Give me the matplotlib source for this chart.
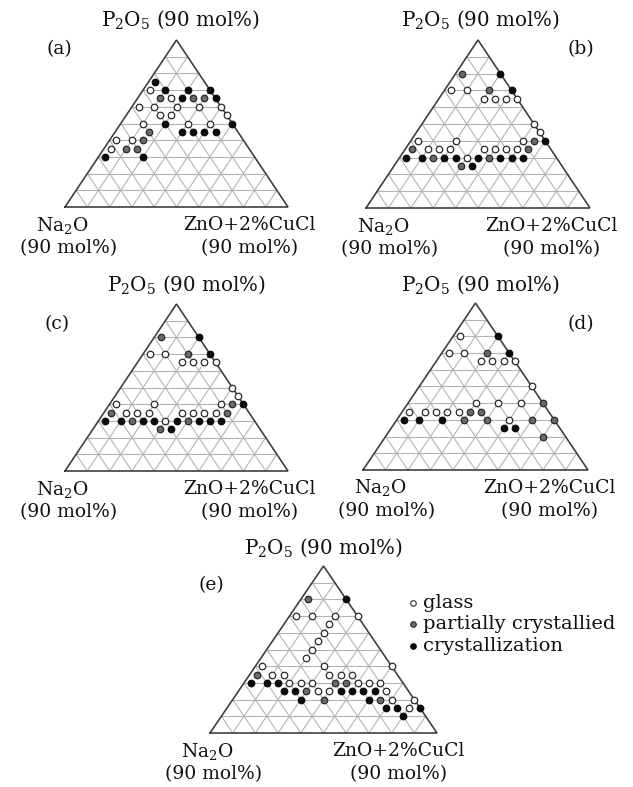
import matplotlib
matplotlib.use('Agg')
import matplotlib.pyplot as plt

plt.rcParams['font.family'] = ['DejaVu Serif']
plt.rcParams['mathtext.fontset'] = 'dejavuserif'

# ---------------- data (triangle %, P2O5 and ZnO+CuCl; Na2O = rest) ----------------
# phase codes: 'g' glass, 'p' partially crystallied, 'c' crystallization
a_p2o5 = [75, 70, 70, 70, 70, 65, 65, 65, 65, 65, 65, 60, 60, 60, 60, 60, 55, 55, 55,
          50, 50, 50, 50, 50, 45, 45, 45, 45, 45, 40, 40, 40, 35, 35, 35, 30, 30]
a_zno = [3, 3, 10, 20, 30, 10, 15, 20, 25, 30, 35, 3, 10, 20, 30, 40, 15, 20, 45,
         10, 20, 30, 40, 50, 15, 30, 35, 40, 45, 3, 10, 15, 3, 10, 15, 3, 20]
a_phase = ['c', 'g', 'c', 'c', 'c', 'p', 'g', 'c', 'p', 'p', 'c', 'g', 'g', 'g', 'g', 'g', 'g', 'g', 'g',
           'g', 'c', 'g', 'g', 'c', 'p', 'c', 'c', 'c', 'c', 'g', 'g', 'p', 'g', 'p', 'p', 'c', 'c']

b_p2o5 = [80, 80, 70, 70, 70, 70, 65, 65, 65, 65, 50, 45, 40, 40, 40, 40, 40,
          35, 35, 35, 35, 35, 35, 35, 35, 35,
          30, 30, 30, 30, 30, 30, 30, 30, 30, 30, 30, 25, 25]
b_zno = [3, 20, 3, 10, 20, 30, 20, 25, 30, 35, 50, 55, 3, 20, 50, 55, 60,
         3, 10, 15, 20, 35, 40, 45, 50, 55,
         3, 10, 15, 20, 25, 30, 35, 40, 45, 50, 55, 30, 35]
b_phase = ['p', 'c', 'g', 'g', 'p', 'c', 'g', 'g', 'g', 'g', 'g', 'g', 'g', 'g', 'g', 'p', 'c',
           'p', 'g', 'g', 'g', 'g', 'g', 'g', 'g', 'p',
           'c', 'c', 'p', 'c', 'c', 'g', 'c', 'p', 'c', 'c', 'c', 'p', 'c']

c_p2o5 = list(b_p2o5)
c_zno = list(b_zno)
c_phase = list(b_phase)

d_p2o5 = [80, 80, 70, 70, 70, 70, 65, 65, 65, 65, 50, 40, 40, 40, 40,
          35, 35, 35, 35, 35, 35, 35, 30, 30, 30, 30, 30, 30, 30, 30, 25, 25, 20]
d_zno = [3, 20, 3, 10, 20, 30, 20, 25, 30, 35, 50, 30, 40, 50, 60,
         3, 10, 15, 20, 25, 30, 35, 3, 10, 20, 30, 40, 50, 60, 70, 50, 55, 70]
d_phase = ['g', 'c', 'g', 'g', 'p', 'c', 'g', 'g', 'g', 'g', 'g', 'g', 'g', 'g', 'p',
           'g', 'g', 'g', 'g', 'g', 'p', 'p', 'c', 'c', 'c', 'p', 'p', 'g', 'p', 'p', 'c', 'c', 'p']

e_p2o5 = [80, 80, 70, 70, 70, 70, 65, 60, 55, 50, 45, 40, 40, 40,
          35, 35, 35, 35, 35, 35,
          30, 30, 30, 30, 30, 30, 30, 30, 30, 30, 30,
          25, 25, 25, 25, 25, 25, 25, 25, 25, 25,
          20, 20, 20, 20, 20, 20, 15, 15, 15, 15, 10]
e_zno = [3, 20, 3, 10, 20, 30, 20, 20, 20, 20, 20, 3, 30, 60,
         3, 10, 15, 35, 40, 45,
         3, 10, 15, 20, 25, 30, 40, 45, 50, 55, 60,
         20, 25, 30, 35, 40, 45, 50, 55, 60, 65,
         30, 40, 60, 65, 70, 80, 70, 75, 80, 85, 80]
e_phase = ['p', 'c', 'g', 'g', 'g', 'g', 'g', 'g', 'g', 'g', 'g', 'g', 'g', 'g',
           'p', 'g', 'g', 'g', 'g', 'g',
           'c', 'c', 'c', 'g', 'g', 'g', 'p', 'p', 'g', 'g', 'g',
           'c', 'c', 'p', 'g', 'g', 'c', 'c', 'c', 'c', 'g',
           'c', 'p', 'c', 'p', 'g', 'g', 'c', 'c', 'g', 'c', 'c']

panel_labels = ['(a)', '(b)', '(c)', '(d)', '(e)']
top_label = r'P$_2$O$_5$ (90 mol%)'
left_label = r'Na$_2$O'
right_label = 'ZnO+2%CuCl'
corner_amount = '(90 mol%)'
legend_labels = ['glass', 'partially crystallied', 'crystallization']
legend_codes = ['g', 'p', 'c']

# ---------------- layout ----------------
W, H = 633, 787
fig = plt.figure(figsize=(W / 100, H / 100), dpi=100)
fig.patch.set_facecolor('white')
FS = 13.5

styles = {
    'g': dict(facecolor='white', edgecolor='#2a2a2a'),
    'p': dict(facecolor='#6a6a6a', edgecolor='#2a2a2a'),
    'c': dict(facecolor='#0a0a0a', edgecolor='#0a0a0a'),
}

# (left corner x, right corner x, apex y, base y) in pixels
boxes = [(65, 288, 40, 207), (366, 590, 40, 208), (65, 288, 304, 471),
         (363, 588, 303, 470), (210, 437, 566, 733)]
# text anchor positions in pixels
title_pos = [(180, 20), (480, 20), (186, 285), (480, 285), (323, 548)]
tag_pos = [(59, 49), (581, 49), (57, 324), (581, 324), (211, 585)]

data = [(a_p2o5, a_zno, a_phase), (b_p2o5, b_zno, b_phase), (c_p2o5, c_zno, c_phase),
        (d_p2o5, d_zno, d_phase), (e_p2o5, e_zno, e_phase)]


def ftext(x, y, s, fs=FS, **kw):
    fig.text(x / W, 1 - y / H, s, ha='center', va='center', fontsize=fs, color='#111111', **kw)


def tern(p, z):
    return [zi + pi / 2 for pi, zi in zip(p, z)], list(p)


for i, (box, (p, z, ph)) in enumerate(zip(boxes, data)):
    l, r, top, base = box
    ax = fig.add_axes([l / W, 1 - base / H, (r - l) / W, (base - top) / H])
    ax.set_xlim(0, 100)
    ax.set_ylim(0, 100)
    ax.axis('off')
    gc = '#b4b4b4'
    for k in range(10, 100, 10):
        ax.plot([k / 2, 100 - k / 2], [k, k], color=gc, lw=0.8, zorder=1)
        ax.plot([k, k + (100 - k) / 2], [0, 100 - k], color=gc, lw=0.8, zorder=1)
        ax.plot([100 - k, (100 - k) / 2], [0, 100 - k], color=gc, lw=0.8, zorder=1)
    ax.plot([0, 100, 50, 0], [0, 0, 100, 0], color='#404040', lw=1.2, zorder=2,
            solid_joinstyle='miter', clip_on=False)
    for code in legend_codes:
        pp = [pi for pi, c in zip(p, ph) if c == code]
        zz = [zi for zi, c in zip(z, ph) if c == code]
        xs, ys = tern(pp, zz)
        ax.scatter(xs, ys, s=22, linewidths=0.9, zorder=3, clip_on=False, **styles[code])

    ftext(*title_pos[i], top_label, fs=14.3)
    ftext(*tag_pos[i], panel_labels[i])
    shift = 20 if i in (1, 3) else 0
    ftext(l - 3 + shift, base + 18, left_label)
    ftext(l + 4 + shift, base + 41, corner_amount)
    ftext(r - 39, base + 18, right_label)
    ftext(r - 38, base + 41, corner_amount)

# legend (panel e)
leg_y = [603, 624, 646]
lax = fig.add_axes([0, 0, 1, 1], facecolor='none')
lax.set_xlim(0, W)
lax.set_ylim(H, 0)
lax.axis('off')
for code, lab, yy in zip(legend_codes, legend_labels, leg_y):
    lax.scatter([413], [yy], s=16, linewidths=0.8, **styles[code])
    fig.text(423 / W, 1 - yy / H, lab, ha='left', va='center', fontsize=14, color='#111111')

fig.savefig('out.png', dpi=100, facecolor='white')
